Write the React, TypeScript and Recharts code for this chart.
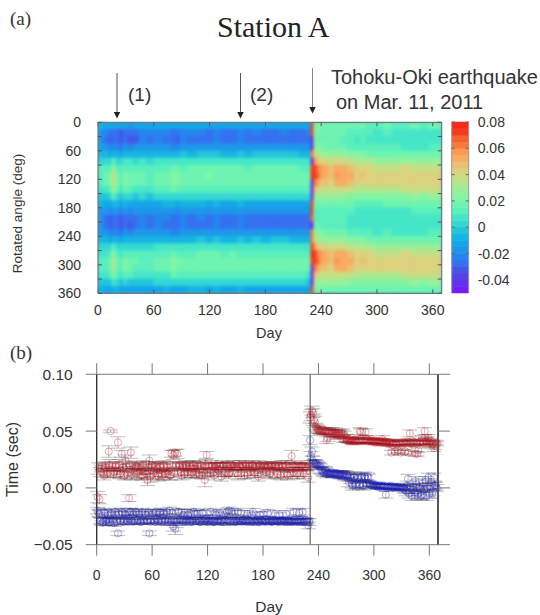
import React from "react";
import { ScatterChart, Scatter, XAxis, YAxis, CartesianGrid, ErrorBar, ReferenceLine } from "recharts";

// --- panel (a): values are in 0.001 sec, one list per day column, 24 angle rows of 15 deg
const dayEdges = [0, 6, 12, 15, 19, 23, 27, 32, 38, 44, 52, 60, 70, 78, 84, 88, 96, 106, 116, 124, 132, 142, 150, 158, 166, 176, 186, 196, 206, 216, 224, 229, 232, 235, 238, 242, 248, 254, 260, 268, 276, 282, 288, 296, 306, 316, 326, 336, 346, 356, 369.6];
const angleCentres = [7.5, 22.5, 37.5, 52.5, 67.5, 82.5, 97.5, 112.5, 127.5, 142.5, 157.5, 172.5, 187.5, 202.5, 217.5, 232.5, 247.5, 262.5, 277.5, 292.5, 307.5, 322.5, 337.5, 352.5];
const cellValues = [
  [-10, -16, -18, -12, -6, 4, 10, 13, 13, 8, -2, -10, -16, -20, -20, -16, -8, 2, 8, 12, 12, 7, -3, -10],
  [-12, -24, -26, -20, -10, 2, 10, 15, 15, 9, -1, -12, -19, -26, -26, -19, -10, 0, 8, 14, 14, 8, -2, -12],
  [-15, -28, -32, -24, -12, 4, 14, 20, 20, 12, 0, -12, -22, -31, -31, -23, -12, 2, 12, 19, 19, 11, -2, -13],
  [-14, -30, -30, -22, -8, 12, 26, 36, 35, 26, 10, -6, -20, -30, -30, -22, -6, 10, 24, 34, 34, 24, 8, -8],
  [-14, -26, -28, -22, -10, 4, 12, 20, 20, 16, 4, -8, -18, -26, -28, -21, -10, 3, 12, 18, 18, 14, 2, -10],
  [-15, -32, -34, -26, -14, 0, 10, 14, 14, 8, -4, -14, -22, -33, -34, -26, -13, 0, 9, 13, 13, 7, -3, -15],
  [-12, -26, -28, -20, -8, 5, 14, 22, 24, 15, 2, -10, -18, -27, -28, -20, -8, 4, 13, 20, 22, 14, 1, -12],
  [-16, -30, -32, -24, -10, 5, 14, 18, 18, 11, 0, -12, -22, -30, -32, -24, -10, 4, 13, 17, 17, 10, -1, -13],
  [-14, -28, -31, -20, -8, 4, 12, 16, 15, 9, -1, -12, -20, -29, -30, -20, -8, 3, 11, 15, 14, 8, -2, -12],
  [-13, -23, -25, -18, -7, 5, 12, 15, 15, 9, 0, -11, -18, -24, -25, -18, -8, 4, 11, 14, 14, 8, -1, -11],
  [-14, -25, -30, -20, -8, 4, 11, 14, 14, 8, -1, -12, -19, -28, -29, -19, -9, 3, 10, 13, 13, 7, -2, -12],
  [-14, -23, -24, -17, -6, 6, 12, 16, 16, 10, 0, -11, -18, -23, -24, -17, -7, 5, 11, 15, 15, 9, 0, -11],
  [-13, -24, -26, -18, -7, 6, 13, 17, 16, 10, 1, -10, -18, -25, -26, -18, -7, 5, 12, 16, 16, 9, 0, -10],
  [-15, -27, -30, -22, -8, 8, 17, 24, 24, 16, 3, -10, -20, -28, -30, -21, -7, 7, 16, 23, 23, 15, 2, -11],
  [-15, -29, -31, -22, -9, 6, 15, 21, 20, 13, 1, -11, -21, -30, -30, -22, -8, 5, 14, 20, 19, 12, 0, -12],
  [-13, -23, -24, -16, -5, 7, 14, 17, 17, 11, 1, -10, -17, -23, -24, -16, -6, 6, 13, 16, 16, 10, 0, -11],
  [-14, -25, -27, -18, -6, 7, 15, 18, 18, 11, 1, -10, -18, -26, -26, -18, -6, 6, 14, 17, 17, 10, 0, -10],
  [-13, -24, -26, -17, -5, 8, 16, 19, 19, 12, 2, -10, -18, -25, -26, -17, -5, 7, 15, 18, 18, 11, 1, -10],
  [-14, -26, -28, -18, -5, 8, 16, 20, 19, 12, 1, -11, -19, -27, -27, -18, -6, 7, 15, 19, 18, 11, 0, -11],
  [-13, -23, -25, -16, -5, 8, 16, 19, 19, 12, 2, -10, -17, -24, -25, -16, -5, 7, 15, 18, 18, 11, 1, -10],
  [-14, -26, -27, -18, -6, 8, 15, 19, 18, 12, 1, -11, -19, -27, -26, -18, -6, 7, 14, 18, 17, 11, 0, -11],
  [-14, -28, -29, -18, -6, 8, 16, 19, 18, 11, 1, -11, -20, -28, -28, -18, -6, 7, 15, 18, 17, 10, 0, -11],
  [-13, -24, -25, -16, -5, 8, 15, 18, 18, 12, 2, -10, -18, -24, -25, -16, -5, 7, 14, 17, 17, 11, 1, -10],
  [-14, -27, -27, -18, -6, 7, 14, 18, 17, 11, 1, -11, -20, -27, -27, -18, -6, 6, 14, 17, 16, 10, 0, -11],
  [-14, -25, -27, -17, -5, 8, 15, 19, 18, 11, 1, -11, -19, -26, -26, -17, -5, 7, 14, 18, 17, 10, 0, -11],
  [-15, -27, -28, -18, -5, 8, 15, 18, 18, 11, 1, -12, -20, -28, -28, -18, -6, 7, 14, 17, 17, 10, 0, -12],
  [-14, -26, -27, -17, -5, 8, 15, 18, 18, 12, 1, -11, -19, -27, -27, -17, -5, 7, 14, 17, 17, 11, 0, -11],
  [-14, -25, -26, -17, -5, 8, 15, 18, 17, 11, 1, -11, -19, -26, -26, -17, -5, 7, 14, 17, 16, 10, 0, -11],
  [-15, -27, -27, -18, -5, 7, 15, 18, 17, 11, 1, -12, -20, -27, -27, -18, -6, 7, 14, 17, 16, 10, 0, -12],
  [-15, -26, -27, -18, -6, 7, 14, 17, 17, 11, 1, -12, -20, -27, -27, -18, -6, 6, 13, 16, 16, 10, 0, -12],
  [-15, -25, -26, -18, -6, 6, 13, 16, 15, 10, 0, -12, -19, -26, -26, -18, -7, 5, 13, 15, 15, 9, -1, -12],
  [72, 74, -44, -42, 62, -46, 74, 78, -44, -46, -48, 70, 74, 66, -46, 60, 62, 74, 78, 74, -44, -46, -48, 70],
  [24, 22, 20, 26, 38, 56, 70, 72, 62, 48, 30, 20, 16, 14, 18, 26, 38, 56, 72, 74, 62, 48, 30, 22],
  [22, 20, 18, 22, 32, 48, 62, 66, 56, 42, 28, 18, 14, 14, 16, 22, 32, 48, 64, 67, 56, 42, 28, 20],
  [20, 18, 18, 20, 28, 42, 56, 58, 48, 38, 26, 18, 14, 12, 14, 20, 28, 42, 56, 59, 48, 38, 26, 20],
  [19, 18, 17, 19, 27, 40, 52, 54, 47, 37, 26, 18, 14, 13, 14, 18, 27, 40, 52, 54, 47, 37, 25, 19],
  [19, 17, 16, 19, 26, 36, 46, 48, 44, 36, 26, 18, 14, 12, 13, 18, 26, 36, 46, 48, 44, 36, 26, 19],
  [18, 16, 15, 18, 26, 40, 53, 56, 50, 39, 26, 17, 13, 11, 12, 17, 26, 40, 53, 56, 50, 39, 26, 18],
  [18, 15, 14, 16, 25, 39, 52, 54, 50, 38, 25, 17, 12, 10, 11, 15, 25, 39, 52, 54, 50, 38, 25, 18],
  [17, 13, 12, 14, 22, 35, 48, 51, 47, 35, 23, 15, 10, 8, 8, 13, 22, 35, 48, 51, 47, 35, 23, 17],
  [15, 10, 9, 12, 20, 32, 42, 44, 43, 34, 22, 13, 9, 6, 6, 11, 20, 32, 42, 44, 43, 34, 22, 16],
  [15, 11, 10, 12, 20, 32, 44, 47, 44, 33, 22, 14, 9, 7, 7, 11, 20, 32, 44, 47, 44, 33, 22, 16],
  [14, 10, 8, 11, 18, 30, 40, 43, 42, 33, 22, 13, 8, 6, 6, 10, 18, 30, 40, 43, 42, 33, 22, 15],
  [14, 9, 8, 10, 18, 29, 39, 42, 41, 33, 22, 14, 8, 6, 6, 9, 18, 29, 39, 42, 41, 33, 22, 15],
  [15, 10, 9, 11, 18, 29, 39, 42, 42, 34, 23, 15, 9, 7, 7, 10, 18, 29, 39, 42, 42, 34, 23, 16],
  [14, 9, 8, 10, 17, 28, 38, 41, 41, 34, 23, 15, 9, 7, 6, 9, 17, 28, 38, 41, 41, 34, 23, 15],
  [14, 7, 5, 8, 17, 29, 40, 43, 42, 35, 24, 15, 9, 6, 5, 8, 17, 29, 40, 43, 42, 35, 24, 15],
  [15, 9, 6, 9, 18, 29, 39, 43, 43, 36, 25, 16, 10, 7, 6, 9, 18, 29, 39, 43, 43, 36, 25, 16],
  [14, 7, 6, 8, 17, 28, 38, 41, 41, 35, 24, 16, 10, 7, 6, 8, 17, 28, 38, 41, 41, 35, 24, 15],
  [15, 9, 8, 10, 18, 29, 39, 42, 42, 36, 25, 16, 11, 8, 8, 10, 18, 29, 39, 42, 42, 36, 25, 16],
];

// colour per 0.005 sec step, from -0.05 up to 0.08
const levelColors = ["#7020f2", "#6230ee", "#5540ea", "#4555ec", "#3570f0", "#2585ee", "#1f96ea", "#15a5e8", "#18b4e3", "#22c5dd", "#33d8d3", "#45e6c8", "#5aefbd", "#6ef4b0", "#82f4a4", "#96f099", "#aee98e", "#c6de85", "#dcd27e", "#eac172", "#f8ab62", "#fb9a55", "#fa7a3c", "#f8602e", "#f53a22", "#f42a1a"];
const angleTicks = [0, 30, 60, 90, 120, 150, 180, 210, 240, 270, 300, 330, 360];
const dayTicks = [0, 60, 120, 180, 240, 300, 360];
const barTicks = [-0.04, -0.02, 0, 0.02, 0.04, 0.06, 0.08];

// --- panel (b): 0.001 sec, the odd lists start on day 1, the even lists on day 2
const redOddDays = [
  -8, -10, 17, 13, 20, 15, 32, 50, 19, 14, 20, 40, 12, 30, 18, 24, 12, -9, 31, 15,
  20, 12, 19, 16, 11, 20, 13, 7, 24, 18, 12, 20, 17, 10, 19, 11, 20, 13, 18, 11,
  30, 29, 31, 30, 20, 14, 19, 12, 20, 16, 19, 13, 20, 15, 19, 12, 20, 14, 7, 29,
  20, 13, 19, 11, 20, 16, 19, 10, 20, 14, 19, 12, 20, 15, 19, 18, 11, 20, 14, 19,
  20, 12, 19, 15, 20, 13, 19, 10, 20, 17, 19, 14, 20, 12, 19, 16, 20, 13, 19, 11,
  19, 13, 20, 11, 18, 28, 14, 19, 12, 18, 20, 14, 19, 18, 9, 62, 68, 60, 54, 52,
  51, 50, 50, 49, 42, 50, 48, 49, 47, 48, 46, 47, 48, 43, 44, 42, 41, 42, 41, 42,
  41, 42, 50, 41, 42, 49, 41, 42, 41, 41, 40, 41, 41, 40, 43, 41, 40, 40, 39, 31,
  40, 32, 40, 39, 31, 40, 39, 40, 31, 48, 39, 40, 30, 30, 40, 41, 39, 50, 41, 44,
  40, 38, 35, 40,
];
const redEvenDays = [
  17, 14, 19, 11, 18, 13, 20, 16, 12, 19, 15, 20, 13, 18, 11, 19, 14, 20, 12, 17,
  19, 13, 18, 11, 20, 15, 12, 18, 10, 20, 14, 19, 11, 18, 13, 20, 12, 19, 15, 11,
  19, 13, 20, 15, 19, 11, 18, 20, 14, 19, 12, 20, 17, 13, 19, 20, 11, 18, 19, 14,
  19, 20, 13, 18, 20, 15, 19, 20, 12, 19, 20, 14, 18, 20, 19, 13, 20, 18, 20, 11,
  20, 19, 14, 20, 18, 19, 12, 20, 19, 15, 20, 18, 19, 13, 20, 19, 20, 12, 18, 20,
  19, 20, 12, 18, 19, 13, 20, 18, 14, 19, 20, 12, 19, 18, 20, 64, 66, 58, 53, 51,
  50, 51, 49, 50, 44, 49, 50, 48, 49, 47, 48, 46, 49, 47, 44, 42, 43, 41, 42, 41,
  42, 41, 49, 42, 41, 43, 42, 41, 41, 42, 40, 41, 40, 41, 40, 41, 40, 39, 40, 38,
  40, 39, 33, 40, 39, 40, 32, 41, 40, 39, 41, 40, 39, 33, 40, 44, 40, 41, 42, 39,
  41, 39, 37, 39,
];
const redErrors = [
  5, 4, 3, 4, 3, 4, 5, 1, 3, 4, 3, 5, 4, 3, 4, 5, 4, 3, 5, 4,
  3, 4, 3, 4, 4, 3, 4, 5, 5, 3, 4, 3, 4, 4, 3, 4, 3, 4, 3, 4,
  3, 4, 3, 4, 3, 4, 3, 4, 3, 4, 3, 4, 3, 4, 3, 4, 3, 4, 6, 3,
  2, 4, 3, 4, 2, 4, 3, 4, 2, 4, 3, 4, 2, 4, 3, 3, 4, 2, 4, 3,
  2, 4, 3, 4, 2, 4, 3, 4, 2, 4, 3, 4, 2, 4, 3, 4, 2, 4, 3, 4,
  3, 4, 2, 4, 3, 5, 4, 3, 4, 3, 2, 4, 3, 3, 4, 5, 4, 5, 3, 3,
  3, 2, 2, 3, 3, 2, 3, 3, 4, 3, 3, 2, 3, 3, 3, 2, 2, 2, 3, 2,
  2, 2, 3, 2, 2, 3, 2, 2, 2, 2, 2, 2, 2, 2, 3, 2, 2, 2, 2, 2,
  2, 2, 2, 2, 2, 2, 2, 2, 2, 3, 2, 2, 2, 2, 2, 2, 2, 3, 3, 3,
  2, 3, 3, 2,
];
const blueOddDays = [
  -20, -23, -29, -30, -22, -28, -30, -23, -29, -31, -24, -40, -29, -21, -30, -23, -29, -27, -21, -30,
  -29, -22, -28, -30, -21, -29, -24, -29, -40, -28, -22, -30, -27, -29, -21, -29, -22, -28, -30, -20,
  -29, -34, -36, -29, -21, -28, -30, -22, -29, -24, -30, -28, -21, -29, -23, -30, -28, -22, -29, -27,
  -29, -21, -29, -30, -24, -29, -22, -29, -30, -28, -21, -20, -29, -23, -30, -28, -21, -29, -30, -28,
  -29, -23, -29, -30, -21, -29, -28, -30, -24, -29, -30, -28, -22, -29, -30, -29, -23, -29, -30, -28,
  -29, -30, -23, -29, -30, -29, -21, -30, -29, -22, -30, -21, -29, -30, -33, 42, 32, 22, 22, 20,
  20, 15, 14, 16, 12, 13, 13, 12, 13, 12, 12, 11, 11, 12, 10, 11, 5, 8, 2, 10,
  4, 9, 3, 10, 2, 8, 10, 4, 3, 2, 2, 2, 1, 2, 1, 2, -6, 1, 1, 1,
  1, 1, 0, 1, 0, 0, -1, -3, 8, 0, -7, -2, 6, -6, 0, -7, 4, -1, -7, 9,
  1, -5, 9, 2,
];
const blueEvenDays = [
  -22, -29, -31, -21, -29, -24, -30, -22, -28, -21, -30, -23, -29, -22, -28, -24, -30, -21, -29, -23,
  -21, -29, -23, -30, -28, -22, -29, -21, -30, -24, -28, -21, -29, -22, -30, -23, -29, -21, -28, -30,
  -22, -29, -30, -21, -28, -29, -24, -30, -28, -22, -29, -30, -23, -28, -29, -30, -22, -29, -28, -30,
  -28, -29, -30, -22, -29, -28, -30, -29, -24, -28, -29, -30, -21, -29, -28, -30, -29, -22, -28, -29,
  -30, -28, -29, -24, -30, -28, -29, -30, -28, -23, -29, -30, -28, -29, -30, -28, -29, -30, -24, -29,
  -28, -29, -30, -28, -29, -30, -28, -29, -30, -28, -29, -30, -28, -29, -30, 28, 24, 21, 21, 19,
  19, 16, 13, 15, 13, 12, 14, 12, 12, 13, 11, 12, 12, 10, 12, 9, 10, 4, 9, 3,
  8, 3, 9, 2, 10, 4, 9, 3, 2, 3, 2, 1, 2, 1, 2, 1, 0, 1, 2, 1,
  0, 1, 1, 0, 1, 0, -2, 2, -5, 1, -1, -4, 3, -5, 1, -6, -2, 7, 0, -5,
  5, -3, 2, 0,
];
const blueErrors = [
  3, 3, 2, 3, 3, 2, 3, 3, 2, 3, 3, 2, 3, 3, 2, 3, 2, 3, 3, 2,
  2, 3, 2, 2, 3, 2, 3, 2, 2, 3, 3, 2, 3, 2, 3, 2, 3, 2, 2, 3,
  2, 4, 5, 2, 3, 2, 2, 3, 2, 3, 2, 2, 3, 2, 3, 2, 2, 3, 2, 3,
  2, 3, 2, 2, 3, 2, 3, 2, 2, 3, 3, 3, 2, 3, 2, 2, 3, 2, 2, 3,
  2, 3, 2, 2, 3, 2, 2, 2, 3, 2, 2, 2, 3, 2, 2, 2, 3, 2, 2, 2,
  2, 2, 3, 2, 2, 2, 3, 2, 2, 3, 2, 3, 2, 2, 3, 4, 4, 3, 3, 3,
  2, 3, 3, 3, 3, 2, 2, 3, 2, 2, 2, 3, 3, 3, 3, 3, 4, 4, 4, 4,
  4, 3, 4, 3, 4, 3, 3, 2, 2, 2, 2, 2, 2, 2, 2, 2, 3, 2, 2, 2,
  2, 2, 2, 2, 2, 2, 3, 4, 4, 3, 4, 3, 4, 4, 3, 4, 4, 3, 4, 4,
  3, 4, 4, 3,
];
const timeTicks = [-0.05, 0, 0.05, 0.1];

const sans = "'Liberation Sans', Arimo, Helvetica, sans-serif";
const serif = "'Liberation Serif', 'Times New Roman', serif";
const ink = "#333333";

// plot sizes of panel (a), the cells take their size from these
const heatW = 343.7;
const heatH = 171;
const heatDays = 369.6;
const barW = 17;
const barH = 171;
const noLabel = { fontSize: 1, fill: "transparent" };

function levelColor(v: number) {
  const i = Math.floor((v + 50) / 5);
  return levelColors[Math.max(0, Math.min(levelColors.length - 1, i))];
}

const heatCells = cellValues.flatMap((col, i) =>
  col.map((value, j) => ({
    day: (dayEdges[i] + dayEdges[i + 1]) / 2,
    angle: angleCentres[j],
    w: dayEdges[i + 1] - dayEdges[i],
    value,
  }))
);
const barCells = levelColors.map((_, i) => ({ x: 0.5, y: (-50 + i * 5 + 2.5) / 1000, value: -50 + i * 5 + 2.5 }));

function toSeries(odd: number[], even: number[], errors: number[]) {
  return [
    ...odd.map((v, i) => ({ day: 1 + i * 2, t: v / 1000, err: errors[i] / 1000 })),
    ...even.map((v, i) => ({ day: 2 + i * 2, t: v / 1000, err: errors[i] / 1000 })),
  ];
}
const redSeries = toSeries(redOddDays, redEvenDays, redErrors);
const blueSeries = toSeries(blueOddDays, blueEvenDays, blueErrors);

function HeatCell(props: any) {
  const { cx, cy, payload } = props;
  const w = (payload.w * heatW) / heatDays + 0.6;
  const h = (15 * heatH) / 360 + 0.6;
  return <rect x={cx - w / 2} y={cy - h / 2} width={w} height={h} fill={levelColor(payload.value)} />;
}

function BarCell(props: any) {
  const { cx, cy, payload } = props;
  const h = (0.005 * barH) / 0.13 + 0.5;
  return <rect x={cx - barW / 2} y={cy - h / 2} width={barW} height={h} fill={levelColor(payload.value)} />;
}

function Ring({ cx, cy, color }: any) {
  return <circle cx={cx} cy={cy} r={3.6} fill="none" stroke={color} strokeWidth={0.7} strokeOpacity={0.55} />;
}

const NoMark = () => null;

// y axis tick: mark of length len (negative goes left) from the axis, optional label at gap from it
function yTick(len: number, stroke: string, gap = 0, fontSize = 14, format?: (v: number) => string) {
  return (p: any) => (
    <g>
      <line x1={p.x} y1={p.y} x2={p.x + len} y2={p.y} stroke={stroke} strokeWidth={1} />
      {format ? (
        <text x={p.x + gap} y={p.y} dy="0.36em" textAnchor={gap < 0 ? "end" : "start"} fill={ink} fontSize={fontSize} fontFamily={sans}>
          {format(p.payload.value)}
        </text>
      ) : null}
    </g>
  );
}

// cells only; the frame and ticks sit on top of them in HeatFrame
function HeatChart() {
  return (
    <div className="heat" style={{ position: "absolute", left: 0, top: 0 }}>
      <ScatterChart width={540} height={330} margin={{ top: 122.3, right: 98.3, bottom: 36.7, left: 98 }}>
        <XAxis dataKey="day" type="number" domain={[0, heatDays]} hide />
        <YAxis dataKey="angle" type="number" reversed domain={[0, 360]} hide />
        <CartesianGrid horizontal={false} vertical={false} fill="#1f9fe4" />
        <Scatter data={heatCells} shape={HeatCell} isAnimationActive={false} />
      </ScatterChart>
    </div>
  );
}

function HeatFrame() {
  const tickStyle = { fill: ink, fontSize: 14, fontFamily: sans };
  const frame = { stroke: "#777777", strokeWidth: 1.2 };
  const mark = { stroke: "#555555" };
  return (
    <div style={{ position: "absolute", left: 0, top: 0 }}>
      <ScatterChart width={540} height={330} margin={{ top: 121.3, right: 97.3, bottom: 6.7, left: 58 }}>
        <XAxis dataKey="day" type="number" domain={[0, heatDays]} ticks={dayTicks} interval={0} height={30} tickSize={-4} tickMargin={16} tick={tickStyle} axisLine={frame} tickLine={mark} />
        <XAxis xAxisId="top" dataKey="day" orientation="top" type="number" domain={[0, heatDays]} ticks={dayTicks} interval={0} height={1} tickSize={-4} tick={noLabel} tickFormatter={() => ""} axisLine={frame} tickLine={mark} />
        <YAxis
          dataKey="angle"
          type="number"
          reversed
          domain={[0, 360]}
          ticks={angleTicks}
          interval={0}
          width={40}
          tickSize={0}
          tickMargin={0}
          tick={yTick(4, "#555555", -17, 14, (v) => (v % 60 === 0 ? String(v) : ""))}
          axisLine={frame}
          tickLine={false}
        />
        <YAxis yAxisId="right" dataKey="angle" orientation="right" type="number" reversed domain={[0, 360]} ticks={angleTicks} interval={0} width={1} tickSize={0} tickMargin={0} tick={yTick(-4, "#555555")} axisLine={frame} tickLine={false} />
        <Scatter data={heatCells.slice(0, 1)} shape={NoMark} isAnimationActive={false} />
        <Scatter data={heatCells.slice(0, 1)} xAxisId="top" yAxisId="right" shape={NoMark} isAnimationActive={false} />
      </ScatterChart>
    </div>
  );
}

function ColorBar() {
  return (
    <div style={{ position: "absolute", left: 440, top: 100 }}>
      <ScatterChart width={100} height={220} margin={{ top: 22, right: 71.3, bottom: 27, left: 11.7 }}>
        <XAxis dataKey="x" type="number" domain={[0, 1]} hide />
        <YAxis dataKey="y" type="number" domain={[-0.05, 0.08]} hide />
        <Scatter data={barCells} shape={BarCell} isAnimationActive={false} />
      </ScatterChart>
    </div>
  );
}

function ColorBarFrame() {
  const frame = { stroke: "#999999", strokeWidth: 1 };
  return (
    <div style={{ position: "absolute", left: 440, top: 100 }}>
      <ScatterChart width={100} height={220} margin={{ top: 22, right: 0, bottom: 27, left: 10.7 }}>
        <XAxis dataKey="x" type="number" domain={[0, 1]} hide />
        <YAxis dataKey="y" type="number" domain={[-0.05, 0.08]} ticks={barTicks} interval={0} width={1} tickSize={0} tickMargin={0} tick={yTick(3, "#666666")} axisLine={frame} tickLine={false} />
        <YAxis
          yAxisId="right"
          dataKey="y"
          orientation="right"
          type="number"
          domain={[-0.05, 0.08]}
          ticks={barTicks}
          interval={0}
          width={71.3}
          tickSize={0}
          tickMargin={0}
          tick={yTick(-3, "#666666", 9, 14, (v) => String(Number(v.toFixed(2))))}
          axisLine={frame}
          tickLine={false}
        />
        <Scatter data={barCells.slice(0, 1)} shape={NoMark} isAnimationActive={false} />
        <Scatter data={barCells.slice(0, 1)} yAxisId="right" shape={NoMark} isAnimationActive={false} />
      </ScatterChart>
    </div>
  );
}

function DelayChart() {
  const line = { stroke: "#777777", strokeWidth: 1 };
  const edge = { stroke: "#333333", strokeWidth: 1.4 };
  const caps = { stroke: "#111111", strokeWidth: 0.5, strokeOpacity: 0.55 };
  return (
    <div style={{ position: "absolute", left: 0, top: 340 }}>
      <ScatterChart width={540} height={275} margin={{ top: 33.3, right: 101, bottom: 30.3, left: 46.7 }}>
        <XAxis
          dataKey="day"
          type="number"
          domain={[0, 369.4]}
          ticks={dayTicks}
          interval={0}
          height={40}
          tickSize={11}
          tickMargin={14}
          tick={{ fill: ink, fontSize: 14, fontFamily: sans }}
          axisLine={line}
          tickLine={line}
        />
        <XAxis xAxisId="top" dataKey="day" orientation="top" type="number" domain={[0, 369.4]} ticks={dayTicks} interval={0} height={1} tickSize={11} tick={noLabel} tickFormatter={() => ""} axisLine={line} tickLine={line} />
        <YAxis
          dataKey="t"
          type="number"
          domain={[-0.05, 0.1]}
          ticks={timeTicks}
          interval={0}
          width={50}
          tickSize={0}
          tickMargin={0}
          tick={yTick(-11, "#777777", -24, 15.5, (v) => (v < 0 ? "\u2212" + Math.abs(v).toFixed(2) : v.toFixed(2)))}
          axisLine={edge}
          tickLine={false}
        />
        <YAxis yAxisId="right" dataKey="t" orientation="right" type="number" domain={[-0.05, 0.1]} ticks={timeTicks} interval={0} width={1} tickSize={0} tickMargin={0} tick={yTick(12, "#777777")} axisLine={{ stroke: "#555555", strokeWidth: 2 }} tickLine={false} />
        <ReferenceLine x={231} stroke="#444444" strokeWidth={1} />
        <Scatter data={redSeries} shape={(p: any) => <Ring {...p} color="#e01020" />} isAnimationActive={false}>
          <ErrorBar dataKey="err" direction="y" width={7.5} {...caps} isAnimationActive={false} />
        </Scatter>
        <Scatter data={blueSeries} shape={(p: any) => <Ring {...p} color="#2020e0" />} isAnimationActive={false}>
          <ErrorBar dataKey="err" direction="y" width={7.5} {...caps} isAnimationActive={false} />
        </Scatter>
        <Scatter data={redSeries.slice(0, 1)} xAxisId="top" yAxisId="right" shape={NoMark} isAnimationActive={false} />
      </ScatterChart>
    </div>
  );
}

function Notes() {
  return (
    <svg width={540} height={615} style={{ position: "absolute", left: 0, top: 0, pointerEvents: "none" }}>
      <defs>
        <marker id="head" markerWidth="7" markerHeight="7" refX="3.5" refY="3.5" orient="auto" markerUnits="userSpaceOnUse">
          <path d="M0,0 L7,3.5 L0,7 Z" fill="#222222" />
        </marker>
      </defs>
      <text x={10} y={25} fontFamily={serif} fontSize={19} fill={ink}>(a)</text>
      <text x={10} y={359} fontFamily={serif} fontSize={19} fill={ink}>(b)</text>
      <text x={217} y={37} fontFamily={serif} fontSize={30} fill="#222222">Station A</text>
      <line x1={117} y1={73} x2={117} y2={115} stroke="#555555" markerEnd="url(#head)" />
      <line x1={240.5} y1={73} x2={240.5} y2={115} stroke="#555555" markerEnd="url(#head)" />
      <line x1={312.5} y1={68} x2={312.5} y2={110} stroke="#888888" markerEnd="url(#head)" />
      <text x={128} y={101} fontFamily={sans} fontSize={19} fill={ink}>(1)</text>
      <text x={250} y={101} fontFamily={sans} fontSize={19} fill={ink}>(2)</text>
      <text x={331} y={84} fontFamily={sans} fontSize={20} fill={ink}>Tohoku-Oki earthquake</text>
      <text x={336} y={109} fontFamily={sans} fontSize={20} fill={ink}>on Mar. 11, 2011</text>
      <text x={269} y={338} textAnchor="middle" fontFamily={sans} fontSize={14.5} fill={ink}>Day</text>
      <text x={269} y={612} textAnchor="middle" fontFamily={sans} fontSize={15.5} fill={ink}>Day</text>
      <text transform="translate(22,213.5) rotate(-90)" textAnchor="middle" fontFamily={sans} fontSize={13.5} fill={ink}>Rotated angle (deg)</text>
      <text transform="translate(17.5,459.5) rotate(-90)" textAnchor="middle" fontFamily={sans} fontSize={16} fill={ink}>Time (sec)</text>
    </svg>
  );
}

export default function App() {
  return (
    <div style={{ position: "absolute", left: 0, top: 0, width: 540, height: 615, background: "#ffffff", overflow: "hidden" }}>
      <style>{`.heat .recharts-scatter { filter: blur(1.4px); clip-path: inset(0.3px); }`}</style>
      <HeatChart />
      <HeatFrame />
      <ColorBar />
      <ColorBarFrame />
      <DelayChart />
      <Notes />
    </div>
  );
}
